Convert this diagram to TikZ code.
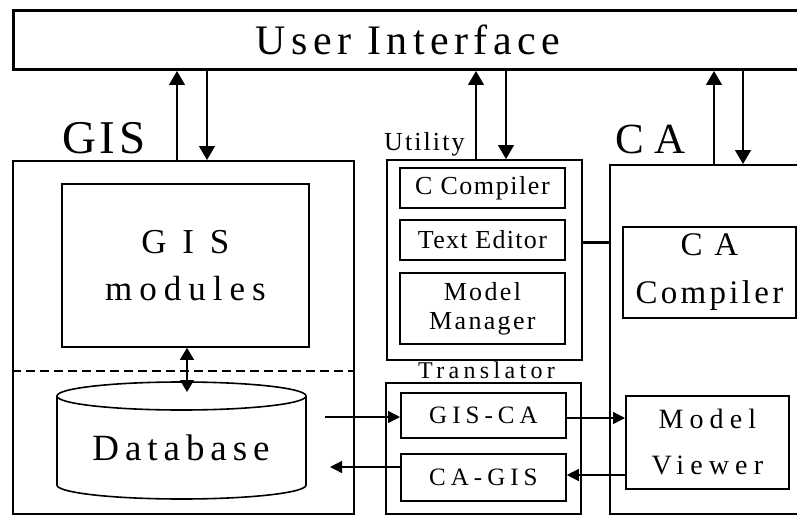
\documentclass[tikz,border=0pt]{standalone}
\usepackage{fontspec}
\setmainfont{Liberation Serif}
\usetikzlibrary{arrows.meta}
\newcommand\dtxt[3]{\fontsize{#1}{#2}\selectfont\addfontfeature{LetterSpace=#3}}
\begin{document}
\begin{tikzpicture}[x=1pt,y=-1pt,
  frame/.style={draw, line width=2.4pt, inner sep=0pt, anchor=north west},
  sub/.style={draw, line width=1.8pt, inner sep=0pt, anchor=north west, align=center},
  lbl/.style={inner sep=0pt, anchor=base west},
  arr/.style={-{Triangle[length=14pt,width=16pt]}, line width=1.3pt},
  sarr/.style={-{Triangle[length=12pt,width=12pt]}, line width=1.3pt},
  darr/.style={{Triangle[length=12pt,width=14pt]}-{Triangle[length=12pt,width=14pt]}, line width=1.3pt}]
\useasboundingbox (0,0) rectangle (797,516);
\fill[white] (0,0) rectangle (797,516);

% User interface
\node[frame, line width=3pt, minimum width=789pt, minimum height=59pt, font=\dtxt{42}{44}{13}] (ui) at (12,9) {User Interface};

% GIS
\node[lbl, font=\dtxt{47}{50}{8}] (gislbl) at (62,153) {GIS};
\node[frame, minimum width=341pt, minimum height=353pt] (gis) at (12,160) {};
\node[sub, minimum width=247pt, minimum height=163pt, font=\dtxt{35}{47}{20}] (gismod) at (61,183) {G I S\\modules};
\draw[dashed, dash pattern=on 9pt off 5pt, line width=1.3pt] (gis.west |- 0,371) -- (gis.east |- 0,371);
\draw[line width=1.6pt] (181.5,396) ellipse [x radius=124.5pt, y radius=14pt];
\draw[line width=1.6pt] (57,396) -- (57,485) -- plot[domain=180:360, samples=60, smooth] ({181.5+124.5*cos(\x)},{485-14*sin(\x)}) -- (306,396);
\node[font=\dtxt{37}{40}{16}, inner sep=0pt, anchor=base] (db) at (181,460) {Database};
\coordinate (dbtop) at (187,392);
\draw[darr] (gismod.south -| dbtop) -- (dbtop);

% Utility
\node[lbl, font=\dtxt{26}{28}{8}] (utillbl) at (384,150) {Utility};
\node[frame, line width=1.5pt, minimum width=195pt, minimum height=200pt] (util) at (386,159) {};
\node[sub, minimum width=165pt, minimum height=40pt, font=\dtxt{26}{28}{6}] (ccomp) at (399,167) {C Compiler};
\node[sub, minimum width=165pt, minimum height=40pt, font=\dtxt{26}{28}{5}] (tedit) at (399,219) {Text Editor};
\node[sub, minimum width=165pt, minimum height=71pt, font=\dtxt{26}{29}{9}] (mman) at (399,272) {Model\\Manager};

% Translator
\node[lbl, font=\dtxt{24}{26}{18}] (translbl) at (418,378) {Translator};
\node[frame, line width=1.5pt, minimum width=195pt, minimum height=131pt] (trans) at (385,382) {};
\node[sub, minimum width=165pt, minimum height=45pt, font=\dtxt{25}{27}{20}] (gisca) at (400,392) {GIS-CA};
\node[sub, minimum width=165pt, minimum height=47pt, font=\dtxt{25}{27}{20}] (cagis) at (400,453) {CA-GIS};

% CA
\node[lbl, font=\dtxt{43}{46}{0}] (calbl) at (615,153) {C A};
\node[frame, minimum width=192pt, minimum height=349pt] (ca) at (609,164) {};
\node[sub, minimum width=173pt, minimum height=91pt, font=\dtxt{33}{48}{10}] (cacomp) at (622,226) {C A\\Compiler};
\node[sub, minimum width=163pt, minimum height=93pt, font=\dtxt{28}{46}{22}] (mview) at (625,395) {Model\\Viewer};

% connectors to user interface
\draw[arr] (gis.north -| 177,0) -- (ui.south -| 177,0);
\draw[arr] (ui.south -| 207,0) -- (gis.north -| 207,0);
\draw[arr] (util.north -| 476,0) -- (ui.south -| 476,0);
\draw[arr] (ui.south -| 506,0) -- (util.north -| 506,0);
\draw[arr] (ca.north -| 714,0) -- (ui.south -| 714,0);
\draw[arr] (ui.south -| 743,0) -- (ca.north -| 743,0);

% utility to CA
\draw[line width=3pt] (util.east |- 0,242) -- (ca.west |- 0,242);

% translator connectors
\coordinate (dbout) at (325,417);
\coordinate (dbin) at (330,467);
\draw[sarr] (dbout) -- (dbout -| gisca.west);
\draw[sarr] (cagis.west |- dbin) -- (dbin);
\draw[sarr] (gisca.east |- 0,418) -- (mview.west |- 0,418);
\draw[sarr] (mview.west |- 0,475) -- (cagis.east |- 0,475);
\end{tikzpicture}
\end{document}
